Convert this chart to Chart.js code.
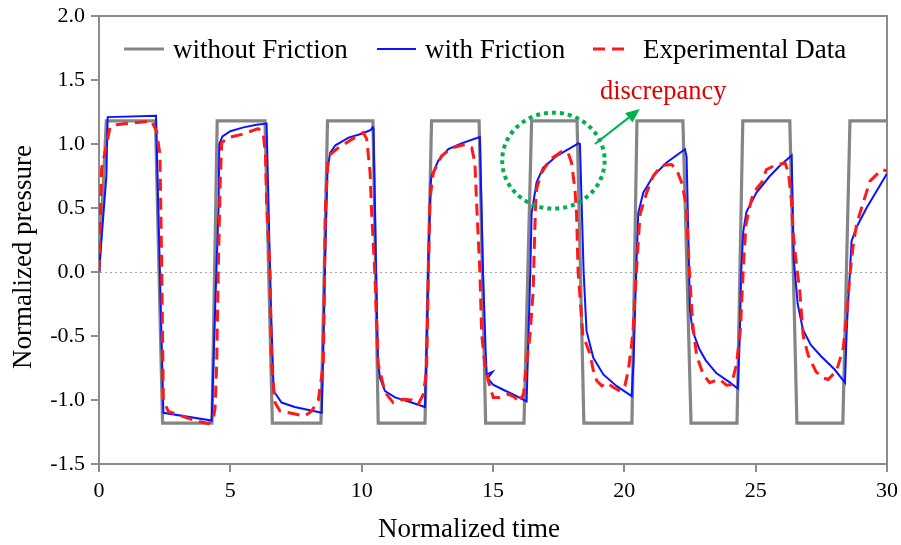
<!DOCTYPE html>
<html>
<head>
<meta charset="utf-8">
<script src="https://cdn.jsdelivr.net/npm/chart.js@4.4.1/dist/chart.umd.min.js"></script>
<style>
  html, body { margin: 0; padding: 0; background: #ffffff; }
  #wrap { width: 901px; height: 545px; }
</style>
</head>
<body>
<div id="wrap"><canvas id="c" width="901" height="545"></canvas></div>
<script>
// ---- data ----
const seriesNames = ["without Friction", "with Friction", "Experimental Data"];
const xTicks = [0, 5, 10, 15, 20, 25, 30];
const yTicks = [-1.5, -1.0, -0.5, 0.0, 0.5, 1.0, 1.5, 2.0];

const noFricT = [0, 0.28, 2.15, 2.42, 4.3, 4.5, 6.32, 6.6, 8.45, 8.7, 10.43, 10.63, 12.41, 12.66, 14.47, 14.72, 16.18, 16.47, 18.2, 18.46, 20.29, 20.48, 22.23, 22.54, 24.29, 24.51, 26.3, 26.57, 28.32, 28.59, 30];
const noFricV = [0, 1.18, 1.18, -1.18, -1.18, 1.18, 1.18, -1.18, -1.18, 1.18, 1.18, -1.18, -1.18, 1.18, 1.18, -1.18, -1.18, 1.18, 1.18, -1.18, -1.18, 1.18, 1.18, -1.18, -1.18, 1.18, 1.18, -1.18, -1.18, 1.18, 1.18];

const fricT = [0, 0.28, 0.33, 2.17, 2.45, 4.29, 4.42, 4.55, 4.58, 4.7, 5.0, 5.5, 6.0, 6.38, 6.55, 6.65, 6.95, 7.45, 8.48,
  8.55, 8.62, 8.7, 8.8, 9.0, 9.5, 10.0, 10.35, 10.42, 10.45, 10.55, 10.62, 10.7, 10.89, 11.27, 11.9, 12.41,
  12.48, 12.55, 12.63, 12.66, 12.92, 13.3, 13.8, 14.5, 14.62, 14.72, 14.76, 14.98, 14.8, 15.0, 15.39, 15.9, 16.28,
  16.35, 16.42, 16.47, 16.66, 16.91, 17.42, 18.25, 18.31, 18.45, 18.56, 18.82, 19.2, 19.7, 20.28,
  20.35, 20.45, 20.53, 20.72, 21.1, 21.6, 22.31, 22.37, 22.5, 22.6, 22.85, 23.1, 23.5, 24.0, 24.32,
  24.38, 24.45, 24.53, 24.65, 25.03, 25.54, 25.92, 26.37, 26.45, 26.6, 26.8, 27.1, 27.5, 28.0, 28.4,
  28.46, 28.52, 28.59, 28.65, 28.84, 29.22, 29.6, 30];
const fricV = [0, 0.75, 1.21, 1.22, -1.1, -1.16, -0.3, 0.5, 1.0, 1.06, 1.1, 1.13, 1.15, 1.16, -0.3, -0.93, -1.02, -1.055, -1.1,
  -0.5, 0.2, 0.8, 0.93, 0.99, 1.05, 1.08, 1.11, 1.13, 1.12, 0.0, -0.7, -0.83, -0.93, -0.98, -1.02, -1.055,
  -0.5, 0.2, 0.7, 0.75, 0.87, 0.96, 1.005, 1.055, 0.0, -0.62, -0.8, -0.78, -0.83, -0.88, -0.92, -0.97, -1.01,
  -0.5, 0.0, 0.46, 0.70, 0.815, 0.906, 1.005, 1.0, 0.0, -0.46, -0.67, -0.8, -0.89, -0.97,
  -0.7, 0.0, 0.46, 0.62, 0.75, 0.854, 0.96, 0.9, -0.3, -0.46, -0.6, -0.69, -0.79, -0.86, -0.91,
  -0.6, 0.0, 0.32, 0.47, 0.62, 0.75, 0.83, 0.91, 0.1, -0.25, -0.45, -0.57, -0.66, -0.76, -0.865,
  -0.49, -0.23, 0.0, 0.24, 0.35, 0.5, 0.63, 0.77];

const expT = [0, 0.1, 0.29, 0.42, 0.67, 1.05, 1.56, 2.0, 2.19, 2.32, 2.39, 2.45, 2.64, 3.15, 3.65, 4.16, 4.35, 4.42, 4.48,
  4.54, 4.61, 4.67, 4.92, 5.43, 6.06, 6.25, 6.34, 6.38, 6.51, 6.57, 6.7, 6.89, 7.46, 7.84, 8.1, 8.35, 8.54,
  8.57, 8.62, 8.73, 9.11, 9.62, 10.06, 10.19, 10.32, 10.38, 10.5, 10.63, 10.89, 11.2, 11.58, 11.9, 12.16, 12.35, 12.47,
  12.54, 12.6, 12.73, 13.04, 13.43, 13.93, 14.19, 14.31, 14.38, 14.5, 14.57, 14.69, 14.82, 15.01, 15.26, 15.58, 15.84, 15.96, 16.16, 16.28, 16.4,
  16.53, 16.56, 16.62, 16.66, 16.85, 17.17, 17.61, 17.86, 17.99, 18.12, 18.18, 18.24, 18.42, 18.69, 18.82, 18.95, 19.14, 19.33, 19.58, 19.83, 20.02, 20.15, 20.28,
  20.34, 20.44, 20.53, 20.6, 20.85, 21.1, 21.42, 21.8, 21.99, 22.18, 22.31, 22.37, 22.47, 22.6, 22.75, 23.0, 23.25, 23.45, 23.64, 23.89, 24.08, 24.27, 24.42,
  24.53, 24.63, 24.75, 24.91, 25.23, 25.41, 25.8, 26.12, 26.25, 26.37, 26.43, 26.55, 26.68, 26.81, 27.0, 27.3, 27.6, 27.76, 28.08, 28.33, 28.46,
  28.59, 28.72, 28.84, 28.97, 29.35, 29.8, 30];
const expV = [0, 0.81, 1.0, 1.13, 1.15, 1.16, 1.17, 1.18, 1.1, 0.92, 0.0, -1.0, -1.09, -1.125, -1.16, -1.185, -1.15, -1.06, -0.72,
  0.0, 0.67, 1.01, 1.05, 1.075, 1.12, 1.09, 0.906, 0.55, 0.0, -0.72, -1.02, -1.086, -1.11, -1.125, -1.086, -1.0, -0.72,
  -0.3, 0.52, 0.906, 0.97, 1.036, 1.09, 1.04, 0.78, 0.46, 0.0, -0.72, -0.94, -1.02, -0.995, -1.0, -1.03, -0.955, -0.77,
  0.0, 0.57, 0.776, 0.906, 0.97, 0.997, 0.97, 0.854, 0.52, 0.0, -0.49, -0.72, -0.85, -0.98, -0.98, -0.955, -0.98, -1.02, -0.955, -0.72, -0.51,
  -0.15, 0.1, 0.52, 0.65, 0.776, 0.88, 0.94, 0.93, 0.854, 0.646, 0.46, 0.0, -0.49, -0.64, -0.77, -0.85, -0.89, -0.865, -0.9, -0.93, -0.89, -0.77, -0.56,
  -0.43, -0.07, 0.24, 0.45, 0.62, 0.75, 0.834, 0.84, 0.8, 0.7, 0.57, 0.48, 0.03, -0.4, -0.65, -0.8, -0.865, -0.85, -0.84, -0.885, -0.88, -0.72, -0.45,
  0.03, 0.37, 0.49, 0.62, 0.70, 0.80, 0.84, 0.85, 0.776, 0.54, 0.3, 0.06, -0.15, -0.5, -0.65, -0.78, -0.83, -0.84, -0.77, -0.6, -0.35,
  -0.02, 0.22, 0.37, 0.46, 0.71, 0.80, 0.79];

// ---- build chart ----
function pts(ts, vs) { return ts.map((t, i) => ({ x: t, y: vs[i] })); }

const SERIF = "'Liberation Serif', 'Times New Roman', serif";
const GRAY = '#858585';
const BLUE = '#0a14ff';
const RED = '#ff1a1a';
const GREEN = '#00b050';
const AXIS = '#8c8c8c';

const datasets = [
  { label: seriesNames[0], data: pts(noFricT, noFricV), borderColor: GRAY, borderWidth: 3.2, order: 3 },
  { label: seriesNames[1], data: pts(fricT, fricV), borderColor: BLUE, borderWidth: 2, order: 2 },
  { label: seriesNames[2], data: pts(expT, expV), borderColor: RED, borderWidth: 3, borderDash: [12, 7], order: 1 }
];

const framePlugin = {
  id: 'frame',
  beforeDatasetsDraw(chart) {
    const { ctx, chartArea: a, scales } = chart;
    ctx.save();
    const y0 = scales.y.getPixelForValue(0);
    ctx.strokeStyle = '#a8a8a8';
    ctx.lineWidth = 1;
    ctx.setLineDash([2, 3]);
    ctx.beginPath();
    ctx.moveTo(a.left + 1, y0 + 0.5);
    ctx.lineTo(a.right, y0 + 0.5);
    ctx.stroke();
    ctx.setLineDash([]);
    ctx.strokeStyle = AXIS;
    ctx.lineWidth = 2;
    ctx.beginPath();
    ctx.moveTo(a.left, a.top);
    ctx.lineTo(a.right, a.top);
    ctx.lineTo(a.right, a.bottom);
    ctx.stroke();
    ctx.restore();
  },
  afterDatasetsDraw(chart) {
    const { ctx, scales } = chart;
    const xs = scales.x, ys = scales.y;
    ctx.save();
    const cx = xs.getPixelForValue(17.3), cy = ys.getPixelForValue(0.87);
    const rx = xs.getPixelForValue(17.3 + 1.95) - cx;
    const ry = cy - ys.getPixelForValue(0.87 + 0.375);
    ctx.strokeStyle = GREEN;
    ctx.lineWidth = 4;
    ctx.setLineDash([4, 4]);
    ctx.beginPath();
    ctx.ellipse(cx, cy, rx, ry, 0, 0, Math.PI * 2);
    ctx.stroke();
    ctx.setLineDash([]);
    const x1 = xs.getPixelForValue(18.88), y1 = ys.getPixelForValue(1.0);
    const x2 = xs.getPixelForValue(20.59), y2 = ys.getPixelForValue(1.273);
    const ang = Math.atan2(y2 - y1, x2 - x1);
    const hl = 14, hw = 6;
    const bx = x2 - Math.cos(ang) * hl, by = y2 - Math.sin(ang) * hl;
    ctx.lineWidth = 2;
    ctx.strokeStyle = GREEN;
    ctx.beginPath();
    ctx.moveTo(x1, y1);
    ctx.lineTo(bx, by);
    ctx.stroke();
    ctx.fillStyle = GREEN;
    ctx.beginPath();
    ctx.moveTo(x2, y2);
    ctx.lineTo(bx - Math.sin(ang) * hw, by + Math.cos(ang) * hw);
    ctx.lineTo(bx + Math.sin(ang) * hw, by - Math.cos(ang) * hw);
    ctx.closePath();
    ctx.fill();
    ctx.fillStyle = '#e00000';
    ctx.font = '26.5px ' + SERIF;
    ctx.textBaseline = 'alphabetic';
    ctx.textAlign = 'left';
    ctx.fillText('discrepancy', xs.getPixelForValue(19.07), ys.getPixelForValue(1.35));
    ctx.restore();
  },
  afterDraw(chart) {
    const { ctx, chartArea: a } = chart;
    ctx.save();
    const ly = a.top + 34;
    const items = [
      { x0: a.left + 25, x1: a.left + 65, tx: a.left + 74, ds: datasets[0] },
      { x0: a.left + 278, x1: a.left + 317, tx: a.left + 326, ds: datasets[1] },
      { x0: a.left + 494, x1: a.left + 527, tx: a.left + 544, ds: datasets[2] }
    ];
    ctx.font = '27px ' + SERIF;
    ctx.textBaseline = 'middle';
    ctx.textAlign = 'left';
    items.forEach(it => {
      ctx.strokeStyle = it.ds.borderColor;
      ctx.lineWidth = it.ds.borderWidth;
      ctx.setLineDash(it.ds.borderDash || []);
      ctx.beginPath();
      ctx.moveTo(it.x0, ly - 1);
      ctx.lineTo(it.x1, ly - 1);
      ctx.stroke();
      ctx.setLineDash([]);
      ctx.fillStyle = '#000';
      ctx.fillText(it.ds.label, it.tx, ly + 1);
    });
    ctx.font = '27px ' + SERIF;
    ctx.textAlign = 'center';
    ctx.textBaseline = 'middle';
    ctx.fillText('Normalized time', 469, 530);
    ctx.translate(24, 257);
    ctx.rotate(-Math.PI / 2);
    ctx.fillText('Normalized pressure', 0, 0);
    ctx.restore();
  }
};

new Chart(document.getElementById('c'), {
  type: 'line',
  data: { datasets },
  options: {
    responsive: false,
    animation: false,
    devicePixelRatio: 1,
    layout: { padding: { left: 0, right: 14, top: 16, bottom: 0 } },
    elements: { point: { radius: 0 }, line: { tension: 0, borderCapStyle: 'butt', borderJoinStyle: 'miter' } },
    plugins: { legend: { display: false }, tooltip: { enabled: false } },
    scales: {
      x: {
        type: 'linear', min: 0, max: 30,
        afterBuildTicks(s) { s.ticks = xTicks.map(v => ({ value: v })); },
        afterFit(s) { s.height = 81; s.paddingLeft = 0; s.paddingRight = 0; },
        ticks: { color: '#000', font: { family: SERIF, size: 22 }, padding: 6, maxRotation: 0, autoSkip: false },
        grid: { drawOnChartArea: false, drawTicks: true, tickLength: 8, color: AXIS, lineWidth: 2 },
        border: { display: true, color: AXIS, width: 2 }
      },
      y: {
        type: 'linear', min: -1.5, max: 2.0,
        afterBuildTicks(s) { s.ticks = yTicks.map(v => ({ value: v })); },
        afterFit(s) { s.width = 99; s.paddingTop = 0; s.paddingBottom = 0; },
        ticks: { color: '#000', font: { family: SERIF, size: 22 }, padding: 6, callback: v => Number(v).toFixed(1), autoSkip: false },
        grid: { drawOnChartArea: false, drawTicks: true, tickLength: 8, color: AXIS, lineWidth: 2 },
        border: { display: true, color: AXIS, width: 2 }
      }
    }
  },
  plugins: [framePlugin]
});
</script>
</body>
</html>
